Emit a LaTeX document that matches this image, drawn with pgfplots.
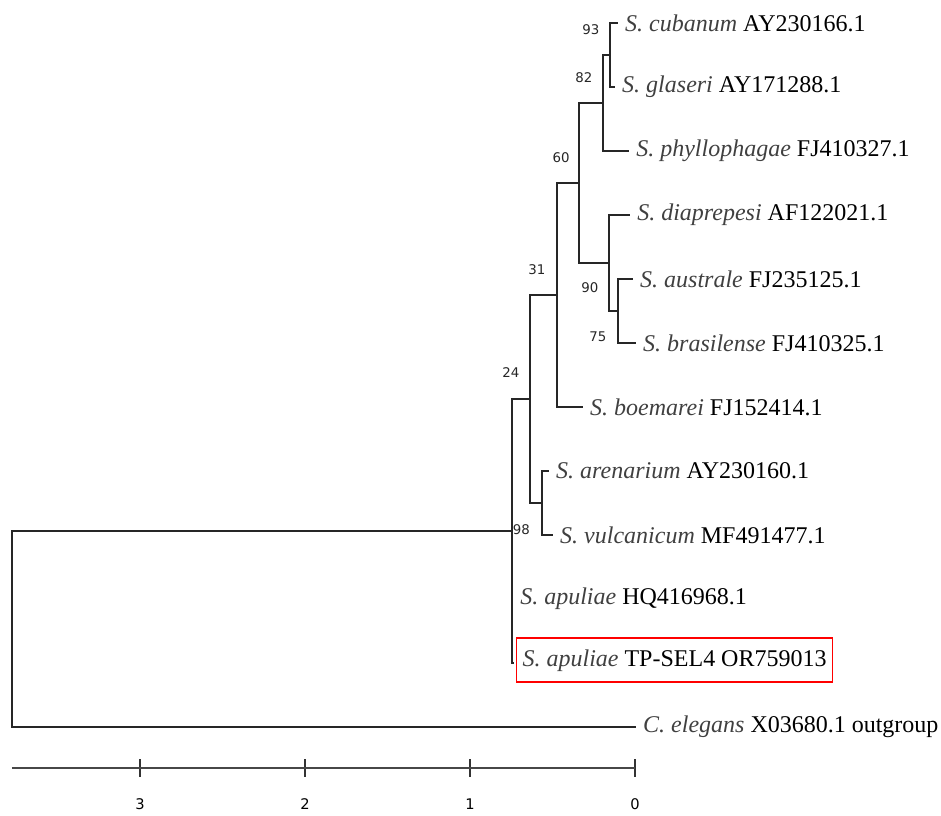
\documentclass[border=0pt]{standalone}
\usepackage{fontspec}
\setmainfont{Liberation Serif}
\newfontfamily\bsfont{DejaVu Sans}
\usepackage{pgfplots}
\pgfplotsset{compat=1.18}
\begin{document}
\begin{tikzpicture}
\begin{axis}[
  x=123.75pt, y=48pt,
  xmin=-3.776, xmax=0, ymin=-11.64, ymax=0.3,
  clip=false,
  axis x line*=bottom, axis y line=none,
  axis line style={draw=black!72, line width=1.4pt},
  xtick={-3,-2,-1,0}, xticklabels={3,2,1,0},
  tick align=center, major tick length=13pt,
  xtick style={draw=black!80, line width=1pt},
  xticklabel style={font=\bsfont\fontsize{11}{12}\selectfont, yshift=-13pt, text=black},
  br/.style={black!85, line width=1pt, line cap=rect, mark=none},
]
% tree branches (brackets per internal node)
\addplot[br] coordinates {(-0.109,0) (-0.152,0) (-0.152,-1) (-0.127,-1)};
\addplot[br] coordinates {(-0.152,-0.5) (-0.194,-0.5) (-0.194,-2) (-0.042,-2)};
\addplot[br] coordinates {(-0.018,-4) (-0.103,-4) (-0.103,-5) (0,-5)};
\addplot[br] coordinates {(-0.036,-3) (-0.158,-3) (-0.158,-4.5) (-0.103,-4.5)};
\addplot[br] coordinates {(-0.194,-1.25) (-0.339,-1.25) (-0.339,-3.75) (-0.158,-3.75)};
\addplot[br] coordinates {(-0.339,-2.5) (-0.473,-2.5) (-0.473,-6) (-0.321,-6)};
\addplot[br] coordinates {(-0.527,-7) (-0.564,-7) (-0.564,-8) (-0.503,-8)};
\addplot[br] coordinates {(-0.473,-4.25) (-0.636,-4.25) (-0.636,-7.5) (-0.564,-7.5)};
\addplot[br] coordinates {(-0.636,-5.875) (-0.745,-5.875) (-0.745,-10) (-0.739,-10)};
\addplot[br] coordinates {(-0.745,-7.94) (-3.776,-7.94) (-3.776,-11) (0,-11)};

% bootstrap values
\begin{scope}[every node/.style={font=\bsfont\fontsize{10}{11}\selectfont, text=black!85, inner sep=0pt}]
\node at (axis cs:-0.267,-0.109) {93};
\node at (axis cs:-0.309,-0.859) {82};
\node at (axis cs:-0.448,-2.109) {60};
\node at (axis cs:-0.273,-4.141) {90};
\node at (axis cs:-0.224,-4.906) {75};
\node at (axis cs:-0.594,-3.859) {31};
\node at (axis cs:-0.752,-5.469) {24};
\node at (axis cs:-0.688,-7.922) {98};
\end{scope}

% tip labels
\begin{scope}[every node/.style={font=\fontsize{18}{21}\selectfont, anchor=west, inner sep=0pt, xshift=6pt}]
\node at (axis cs:-0.109,0) {\textcolor{black!75}{\textit{S. cubanum}} AY230166.1};
\node at (axis cs:-0.127,-1) {\textcolor{black!75}{\textit{S. glaseri}} AY171288.1};
\node at (axis cs:-0.042,-2) {\textcolor{black!75}{\textit{S. phyllophagae}} FJ410327.1};
\node at (axis cs:-0.036,-3) {\textcolor{black!75}{\textit{S. diaprepesi}} AF122021.1};
\node at (axis cs:-0.018,-4) {\textcolor{black!75}{\textit{S. australe}} FJ235125.1};
\node at (axis cs:0,-5) {\textcolor{black!75}{\textit{S. brasilense}} FJ410325.1};
\node at (axis cs:-0.321,-6) {\textcolor{black!75}{\textit{S. boemarei}} FJ152414.1};
\node at (axis cs:-0.527,-7) {\textcolor{black!75}{\textit{S. arenarium}} AY230160.1};
\node at (axis cs:-0.503,-8) {\textcolor{black!75}{\textit{S. vulcanicum}} MF491477.1};
\node at (axis cs:-0.745,-9) {\textcolor{black!75}{\textit{S. apuliae}} HQ416968.1};
\node[draw=red, line width=1pt, inner xsep=4.5pt, inner ysep=8pt, text height=13pt, text depth=4pt, xshift=-3.8pt, yshift=2.2pt] at (axis cs:-0.739,-10) {\textcolor{black!75}{\textit{S. apuliae}} TP-SEL4 OR759013};
\node at (axis cs:0,-11) {\textcolor{black!75}{\textit{C. elegans}} X03680.1 outgroup};
\end{scope}

\coordinate (bbll) at (axis cs:-3.848,-12.391);
\coordinate (bbur) at (axis cs:1.855,0.359);
\end{axis}
\pgfresetboundingbox
\useasboundingbox (bbll) rectangle (bbur);
\end{tikzpicture}
\end{document}
